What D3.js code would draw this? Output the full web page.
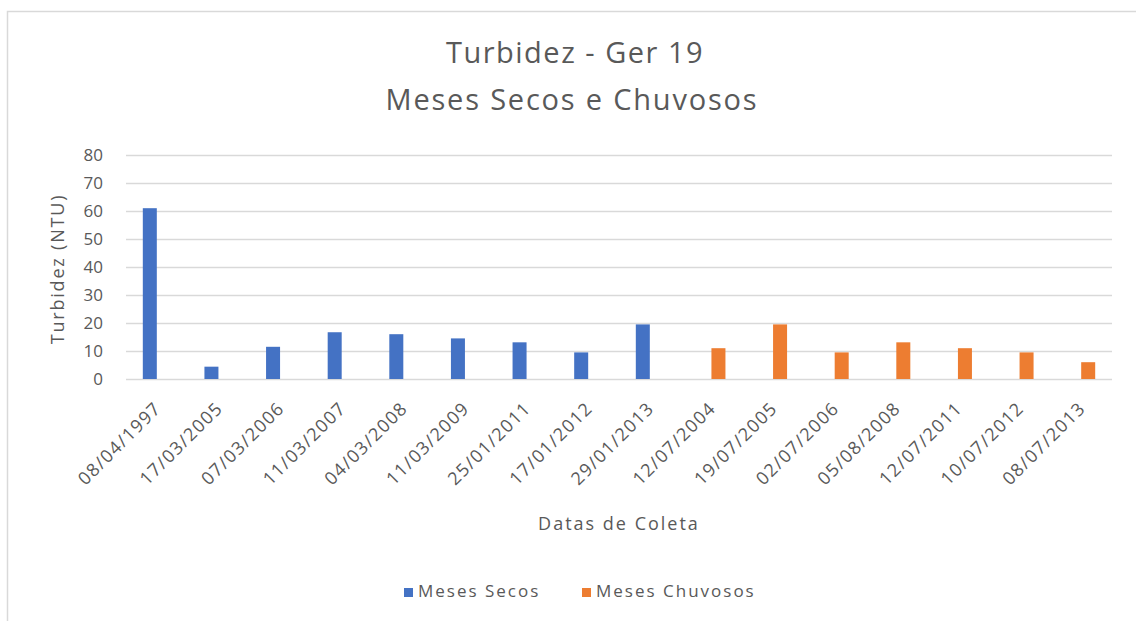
<!DOCTYPE html>
<html>
<head>
<meta charset="UTF-8">
<style>
body { margin: 0; background: #fff; }
text { font-family: 'Open Sans', sans-serif; fill: #595959; }
</style>
</head>
<body>
<svg id="chart"></svg>
<script src="https://d3js.org/d3.v7.min.js"></script>
<script>
// data
let dates = ["08/04/1997", "17/03/2005", "07/03/2006", "11/03/2007", "04/03/2008", "11/03/2009",
             "25/01/2011", "17/01/2012", "29/01/2013", "12/07/2004", "19/07/2005", "02/07/2006",
             "05/08/2008", "12/07/2011", "10/07/2012", "08/07/2013"];
let secos    = [61, 4.4, 11.5, 16.7, 16, 14.5, 13.1, 9.5, 19.5, null, null, null, null, null, null, null];
let chuvosos = [null, null, null, null, null, null, null, null, null, 11, 19.5, 9.5, 13.1, 11, 9.5, 6];
let seriesNames = ["Meses Secos", "Meses Chuvosos"];
let seriesColors = ["#4472c4", "#ed7d31"];
let yTicks = [0, 10, 20, 30, 40, 50, 60, 70, 80];

let width = 1136, height = 621;
let plotLeft = 126, plotRight = 1112, plotTop = 155, plotBottom = 379;

let svg = d3.select("#chart").attr("width", width).attr("height", height);

// outer chart border
svg.append("rect")
    .attr("x", 7.5).attr("y", 11.5)
    .attr("width", width + 10).attr("height", height + 10)
    .attr("fill", "none").attr("stroke", "#d9d9d9").attr("stroke-width", 1.5);

let x = d3.scaleBand().domain(dates).range([plotLeft, plotRight]).paddingInner(0).paddingOuter(0);
// two series side by side inside each category (gap ~120%)
let sub = d3.scaleBand().domain(seriesNames).range([0, x.bandwidth()]).paddingInner(0).paddingOuter(1.2);
let y = d3.scaleLinear().domain([0, 80]).range([plotBottom, plotTop]);

// gridlines
svg.append("g").selectAll("line")
    .data(yTicks)
    .join("line")
    .attr("x1", plotLeft).attr("x2", plotRight)
    .attr("y1", d => Math.round(y(d)) + 0.5).attr("y2", d => Math.round(y(d)) + 0.5)
    .attr("stroke", "#d9d9d9").attr("stroke-width", 1.3);

// y tick labels
svg.append("g").selectAll("text")
    .data(yTicks)
    .join("text")
    .attr("x", 103).attr("y", d => y(d))
    .attr("dy", "0.36em")
    .attr("text-anchor", "end")
    .style("font-size", "17px")
    .text(d => d);

// bars
let rows = dates.map((d, i) => ({date: d, vals: [secos[i], chuvosos[i]]}));
let groups = svg.append("g").selectAll("g")
    .data(rows)
    .join("g")
    .attr("transform", d => "translate(" + x(d.date) + ",0)");

groups.selectAll("rect")
    .data(d => d.vals.map((v, j) => ({name: seriesNames[j], v: v, c: seriesColors[j]})).filter(e => e.v != null))
    .join("rect")
    .attr("x", e => sub(e.name))
    .attr("width", sub.bandwidth())
    .attr("y", e => y(e.v))
    .attr("height", e => y(0) - y(e.v))
    .attr("fill", e => e.c);

// x labels, rotated
svg.append("g").selectAll("text")
    .data(dates)
    .join("text")
    .attr("transform", d => "translate(" + (x(d) + x.bandwidth() / 2 + 1) + "," + (plotBottom + 26) + ") rotate(-45)")
    .attr("text-anchor", "end")
    .attr("dy", "0.35em")
    .style("font-size", "18px")
    .style("letter-spacing", "1.3px")
    .text(d => d);

// titles
svg.append("text")
    .attr("x", 575).attr("y", 63)
    .attr("text-anchor", "middle")
    .style("font-size", "29px")
    .style("letter-spacing", "1.5px")
    .text("Turbidez - Ger 19");
svg.append("text")
    .attr("x", 572).attr("y", 110)
    .attr("text-anchor", "middle")
    .style("font-size", "29px")
    .style("letter-spacing", "1.8px")
    .text("Meses Secos e Chuvosos");

svg.append("text")
    .attr("transform", "translate(64," + ((plotTop + plotBottom) / 2 + 2) + ") rotate(-90)")
    .attr("text-anchor", "middle")
    .style("font-size", "18px")
    .style("letter-spacing", "1.8px")
    .text("Turbidez (NTU)");

svg.append("text")
    .attr("x", (plotLeft + plotRight) / 2).attr("y", 530)
    .attr("text-anchor", "middle")
    .style("font-size", "18px")
    .style("letter-spacing", "2px")
    .text("Datas de Coleta");

// legend
let legendX = [404, 582];
let legend = svg.append("g").selectAll("g")
    .data(seriesNames)
    .join("g")
    .attr("transform", (d, i) => "translate(" + legendX[i] + ",588)");
legend.append("rect")
    .attr("width", 9).attr("height", 9)
    .attr("fill", (d, i) => seriesColors[i]);
legend.append("text")
    .attr("x", 14).attr("y", 9)
    .style("font-size", "17px")
    .style("letter-spacing", "2px")
    .text(d => d);
</script>
</body>
</html>
